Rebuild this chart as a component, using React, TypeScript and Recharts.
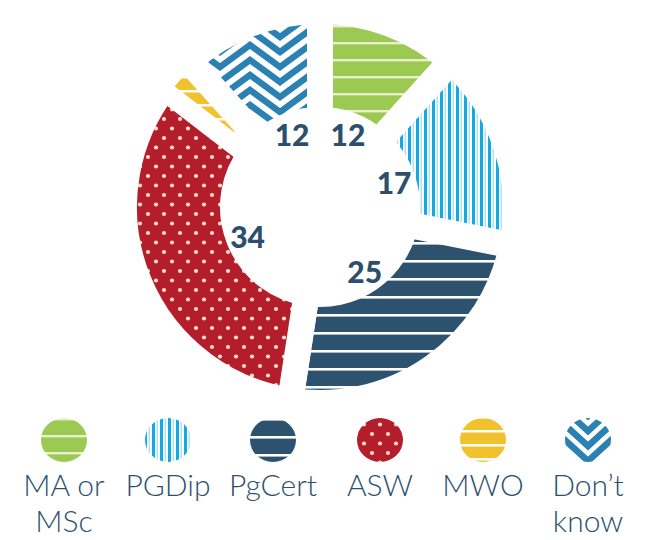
import React from "react";
import { PieChart, Pie, Cell, Legend } from "recharts";

const categories = ["MA or MSc", "PGDip", "PgCert", "ASW", "MWO", "Don’t know"];
const values = [12, 17, 25, 34, 3, 12];
const legendLines = [["MA or", "MSc"], ["PGDip"], ["PgCert"], ["ASW"], ["MWO"], ["Don’t", "know"]];
const shownLabels = [true, true, true, true, false, true];
const patternIds = ["pGreen", "pDip", "pCert", "pAsw", "pMwo", "pDk"];
const legendPatternIds = ["pGreen", "pDip", "pCert", "pAsw", "pMwo", "pDkLegend"];

const data = categories.map((name, i) => ({ name, value: values[i] }));

const NAVY = "#2c4f6e";
const FONT = "Lato, 'Open Sans', sans-serif";

const Chevron = ({ id, w, depth, h, x, sw }: any) => (
  <pattern id={id} patternUnits="userSpaceOnUse" width={w} height={h} x={x}>
    <rect width={w} height={h} fill="#ffffff" />
    {[-3, -2, -1, 0, 1].map((n) => {
      const k = n * h;
      const half = w / 2;
      return (
        <polyline
          key={n}
          points={`${-half},${k + depth} 0,${k} ${half},${k + depth} ${w},${k} ${w + half},${k + depth}`}
          fill="none"
          stroke="#2a81b2"
          strokeWidth={sw}
        />
      );
    })}
  </pattern>
);

const Patterns = () => (
  <svg width={0} height={0} style={{ position: "absolute", left: 0, top: 0 }} aria-hidden>
    <defs>
      <pattern id="pGreen" patternUnits="userSpaceOnUse" width={17} height={17}>
        <rect width={17} height={17} fill="#9bc952" />
        <rect y={8} width={17} height={2.4} fill="#e8f0d0" />
      </pattern>
      <pattern id="pDip" patternUnits="userSpaceOnUse" width={8} height={8}>
        <rect width={8} height={8} fill="#ffffff" />
        <rect x={0} width={3} height={8} fill="#16a8e0" />
        <rect x={4.5} width={1.6} height={8} fill="#b2e0f4" />
      </pattern>
      <pattern id="pCert" patternUnits="userSpaceOnUse" width={18} height={18}>
        <rect width={18} height={18} fill="#2d526f" />
        <rect y={8} width={18} height={2.6} fill="#ffffff" />
      </pattern>
      <pattern id="pAsw" patternUnits="userSpaceOnUse" width={16} height={19}>
        <rect width={16} height={19} fill="#b41d2b" />
        <circle cx={4} cy={5} r={2.1} fill="#f5dcc6" />
        <circle cx={12} cy={14.5} r={2.1} fill="#f5dcc6" />
      </pattern>
      <pattern id="pMwo" patternUnits="userSpaceOnUse" width={14} height={14}>
        <rect width={14} height={14} fill="#f2c12e" />
        <rect y={6} width={14} height={2.5} fill="#ffffff" />
      </pattern>
      <Chevron id="pDk" w={60} depth={22} h={15} x={10} sw={6.4} />
      <Chevron id="pDkLegend" w={46} depth={21} h={15} x={13} sw={6.5} />
    </defs>
  </svg>
);

const RAD = Math.PI / 180;

const renderLabel = (props: any) => {
  const { cx, cy, midAngle, index, value } = props;
  if (!shownLabels[index]) return null;
  const r = 78;
  const x = cx + r * Math.cos(-midAngle * RAD);
  const y = cy + r * Math.sin(-midAngle * RAD);
  return (
    <text
      x={x}
      y={y}
      textAnchor="middle"
      dominantBaseline="central"
      fill={NAVY}
      fontFamily={FONT}
      fontWeight={900}
      fontSize={30}
    >
      {value}
    </text>
  );
};

const itemX = [64, 168, 273, 380, 483, 588];

const CustomLegend = () => (
  <svg width={658} height={130} style={{ display: "block" }}>
    {categories.map((c, i) => (
      <g key={c}>
        <ellipse cx={itemX[i]} cy={30} rx={23} ry={22} fill={`url(#${legendPatternIds[i]})`} />
        {legendLines[i].map((line, j) => (
          <text
            key={j}
            x={itemX[i]}
            y={86 + j * 36}
            textAnchor="middle"
            fill={NAVY}
            fontFamily={FONT}
            fontWeight={300}
            fontSize={30}
          >
            {line}
          </text>
        ))}
      </g>
    ))}
  </svg>
);

export default function App() {
  return (
    <div style={{ position: "absolute", left: 0, top: 0, width: 658, height: 540, background: "#fff", fontFamily: FONT }}>
      <Patterns />
      <PieChart width={658} height={540} margin={{ top: 0, right: 0, bottom: 0, left: 0 }}>
        <Pie
          data={data}
          dataKey="value"
          nameKey="name"
          cx={320}
          cy={207}
          innerRadius={87}
          outerRadius={196}
          startAngle={90}
          endAngle={-270}
          stroke="#ffffff"
          strokeWidth={26}
          label={renderLabel}
          labelLine={false}
          isAnimationActive={false}
        >
          {data.map((d, i) => (
            <Cell key={d.name} fill={`url(#${patternIds[i]})`} strokeWidth={d.name === "MWO" ? 14 : 26} />
          ))}
        </Pie>
        <Legend verticalAlign="bottom" align="left" content={() => <CustomLegend />} wrapperStyle={{ left: 0, bottom: 0, width: 658, height: 130 }} />
      </PieChart>
    </div>
  );
}
